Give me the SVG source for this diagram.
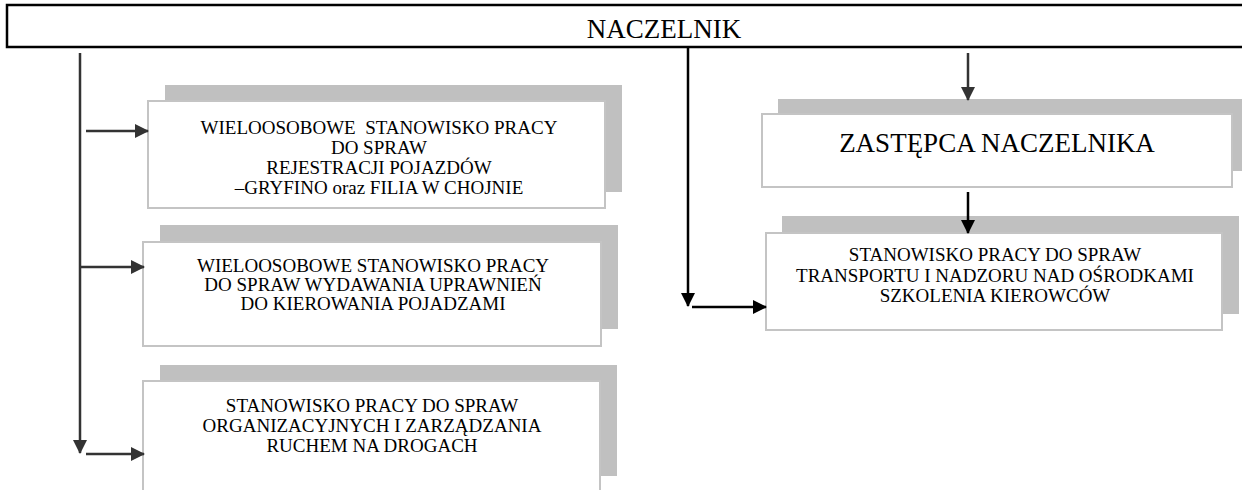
<svg xmlns="http://www.w3.org/2000/svg" width="1242" height="490" viewBox="0 0 1242 490">
<style>
.shadow{fill:#c0c0c0;stroke:none}
.box{fill:#ffffff;stroke:#c4c4c4;stroke-width:2}
.t{font-family:"Liberation Serif","Times New Roman",serif;font-size:19px;fill:#000;text-anchor:middle}
.big{font-family:"Liberation Serif","Times New Roman",serif;font-size:27px;fill:#000;text-anchor:middle}
.c1{stroke:#333;stroke-width:2.5;fill:none}
.c2{stroke:#000;stroke-width:2.5;fill:none}
</style>
<defs>
<marker id="ah" markerWidth="14" markerHeight="14" refX="13" refY="7" orient="auto" markerUnits="userSpaceOnUse">
<path d="M0,0 L14,7 L0,14 Z" fill="#333"/>
</marker>
<marker id="ahk" markerWidth="14" markerHeight="14" refX="13" refY="7" orient="auto" markerUnits="userSpaceOnUse">
<path d="M0,0 L14,7 L0,14 Z" fill="#000"/>
</marker>
</defs>
<rect width="1242" height="490" fill="#fff"/>
<g id="naczelnik">
<rect x="7" y="5" width="1250" height="42" fill="#fff" stroke="#000" stroke-width="2.5"/>
<text class="big" x="664" y="38">NACZELNIK</text>
</g>
<g id="box1">
<rect class="shadow" x="165" y="85" width="457" height="107"/>
<rect class="box" x="148" y="101" width="457" height="107"/>
<text class="t" x="379" y="134" xml:space="preserve">WIELOOSOBOWE  STANOWISKO PRACY</text>
<text class="t" x="379" y="154">DO SPRAW</text>
<text class="t" x="379" y="174">REJESTRACJI POJAZDÓW</text>
<text class="t" x="379" y="194">–GRYFINO oraz FILIA W CHOJNIE</text>
</g>
<g id="box2">
<rect class="shadow" x="160" y="225" width="458" height="104"/>
<rect class="box" x="143" y="242" width="458" height="104"/>
<text class="t" x="373" y="272">WIELOOSOBOWE STANOWISKO PRACY</text>
<text class="t" x="373" y="291">DO SPRAW WYDAWANIA UPRAWNIEŃ</text>
<text class="t" x="373" y="310">DO KIEROWANIA POJADZAMI</text>
</g>
<g id="box3">
<rect class="shadow" x="160" y="365" width="457" height="111"/>
<rect class="box" x="143" y="381" width="457" height="130"/>
<text class="t" x="372" y="412">STANOWISKO PRACY DO SPRAW</text>
<text class="t" x="372" y="432">ORGANIZACYJNYCH I ZARZĄDZANIA</text>
<text class="t" x="372" y="452">RUCHEM NA DROGACH</text>
</g>
<g id="zastepca">
<rect class="shadow" x="778" y="99" width="470" height="72"/>
<rect class="box" x="762" y="114" width="470" height="73"/>
<text class="big" x="997" y="152">ZASTĘPCA NACZELNIKA</text>
</g>
<g id="transport">
<rect class="shadow" x="782" y="216" width="457" height="98"/>
<rect class="box" x="766" y="233" width="456" height="97"/>
<text class="t" x="995" y="261">STANOWISKO PRACY DO SPRAW</text>
<text class="t" x="995" y="282">TRANSPORTU I NADZORU NAD OŚRODKAMI</text>
<text class="t" x="995" y="302">SZKOLENIA KIEROWCÓW</text>
</g>
<g id="connectors">
<line class="c1" x1="80" y1="53" x2="80" y2="453" marker-end="url(#ah)"/>
<line class="c1" x1="86" y1="131" x2="148" y2="131" marker-end="url(#ah)"/>
<line class="c1" x1="80" y1="267" x2="144" y2="267" marker-end="url(#ah)"/>
<line class="c1" x1="86" y1="454" x2="144" y2="454" marker-end="url(#ah)"/>
<line class="c2" x1="688" y1="47" x2="688" y2="306" marker-end="url(#ahk)"/>
<line class="c2" x1="692" y1="307" x2="766" y2="307" marker-end="url(#ahk)"/>
<line class="c1" x1="968" y1="53" x2="968" y2="100" marker-end="url(#ah)"/>
<line class="c2" x1="968" y1="192" x2="968" y2="233" marker-end="url(#ahk)"/>
</g>
</svg>
